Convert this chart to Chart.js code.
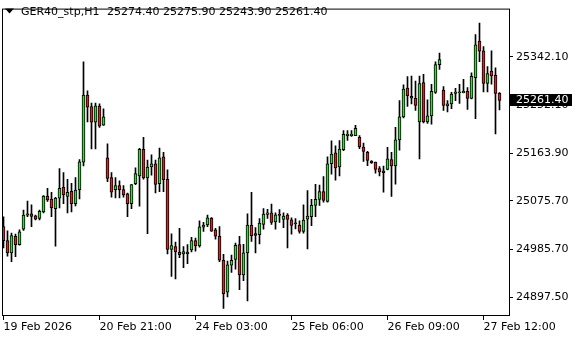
<!DOCTYPE html>
<html>
<head>
<meta charset="utf-8">
<script src="https://cdn.jsdelivr.net/npm/chart.js@4.4.1/dist/chart.umd.min.js"></script>
<style>
html, body { margin: 0; padding: 0; background: #fff; }
canvas { display: block; }
</style>
</head>
<body>
<canvas id="chart" width="580" height="340"></canvas>
<script>
// GER40 H1 candles (O, H, L, C per bar)
var symbol = 'GER40_stp,H1';

var opens = [
  25028.2, 25002.2, 24979.7, 25010.0, 24994.9, 25023.3, 25049.4, 25051.7, 25048.1, 25043.2,
  25055.4, 25084.4, 25079.0, 25061.4, 25080.8, 25100.7, 25083.9, 25093.5, 25070.4, 25096.6,
  25147.4, 25271.3, 25250.1, 25221.1, 25250.8, 25215.6, 25155.2, 25118.9, 25096.6, 25103.8,
  25096.6, 25088.6, 25070.4, 25107.5, 25122.0, 25171.0, 25118.3, 25138.3, 25144.3, 25107.5,
  25157.0, 25115.3, 24985.9, 24991.3, 24980.4, 24977.9, 24977.9, 24985.1, 25002.2, 24992.4,
  25026.9, 25031.2, 25044.0, 25022.2, 25010.0, 24965.9, 24907.1, 24956.8, 24967.7, 24994.9,
  24938.7, 24979.7, 25031.2, 25015.5, 25013.1, 25032.3, 25050.5, 25053.6, 25036.7, 25049.6,
  25041.4, 25049.4, 25040.9, 25033.6, 25031.2, 25019.1, 25042.1, 25046.3, 25067.5, 25078.4,
  25092.9, 25074.8, 25144.3, 25164.3, 25138.3, 25170.2, 25196.4, 25196.4, 25196.4, 25193.3,
  25175.1, 25165.5, 25149.0, 25147.4, 25135.2, 25131.1, 25134.0, 25152.1, 25140.1, 25188.4,
  25230.9, 25284.0, 25269.0, 25265.3, 25221.8, 25294.4, 25221.8, 25232.7, 25276.2, 25327.6,
  25280.4, 25251.4, 25255.0, 25274.4, 25275.5, 25275.5, 25278.0, 25265.0, 25303.4, 25371.1,
  25353.0, 25292.6, 25315.4, 25307.6, 25274.4
];
var highs = [
  25046.3, 25020.4, 25016.0, 25014.2, 25022.2, 25058.5, 25075.3, 25068.6, 25049.4, 25058.5,
  25085.7, 25098.9, 25091.7, 25082.1, 25135.2, 25128.0, 25115.3, 25108.0, 25118.9, 25152.1,
  25332.5, 25279.1, 25256.3, 25256.3, 25255.0, 25245.9, 25181.1, 25128.0, 25118.9, 25112.9,
  25103.8, 25089.9, 25105.6, 25137.0, 25173.0, 25193.3, 25151.0, 25160.6, 25151.0, 25173.3,
  25165.5, 25132.9, 25014.9, 24999.7, 25025.1, 24991.3, 24994.9, 25008.2, 25006.9, 25039.0,
  25036.0, 25049.4, 25045.0, 25025.1, 25028.2, 24976.8, 24964.6, 24975.5, 24997.9, 25010.0,
  24995.5, 25051.7, 25091.7, 25026.3, 25043.2, 25061.4, 25060.3, 25069.9, 25053.6, 25059.5,
  25053.6, 25052.3, 25044.5, 25043.2, 25039.0, 25068.6, 25094.8, 25078.4, 25106.2, 25104.9,
  25120.7, 25157.0, 25186.6, 25177.5, 25187.3, 25205.4, 25205.4, 25205.4, 25215.1, 25196.4,
  25182.4, 25167.3, 25150.0, 25147.4, 25138.9, 25140.1, 25174.6, 25165.5, 25211.4, 25261.0,
  25290.0, 25305.3, 25306.4, 25297.3, 25306.4, 25309.4, 25262.3, 25291.3, 25332.5, 25348.8,
  25287.1, 25261.0, 25276.2, 25283.5, 25291.3, 25300.4, 25285.3, 25312.5, 25382.9, 25404.2,
  25360.8, 25324.0, 25353.0, 25321.6, 25275.9
];
var lows = [
  24988.8, 24973.7, 24963.4, 24972.4, 24993.7, 25020.9, 25046.3, 25028.2, 25040.3, 25040.3,
  25053.6, 25074.8, 25046.3, 24991.9, 25062.6, 25070.4, 25053.6, 25055.4, 25066.3, 25079.5,
  25140.1, 25221.8, 25171.5, 25171.5, 25211.4, 25215.1, 25111.1, 25082.6, 25081.3, 25081.3,
  25082.6, 25046.3, 25061.4, 25105.6, 25065.7, 25116.0, 25014.9, 25123.1, 25090.4, 25092.9,
  25092.9, 24977.9, 24936.2, 24931.4, 24970.6, 24952.5, 24959.7, 24981.5, 24982.8, 24990.0,
  25019.1, 25028.2, 25019.1, 25005.1, 24963.4, 24877.0, 24898.0, 24943.4, 24949.6, 24911.4,
  24928.3, 24890.8, 25000.9, 24979.7, 24996.0, 25023.3, 25043.2, 25032.3, 25023.3, 25036.0,
  25026.3, 24988.8, 25014.2, 25024.0, 25016.0, 25016.0, 24987.0, 25030.0, 25046.3, 25067.5,
  25073.5, 25073.5, 25124.9, 25114.0, 25122.0, 25168.4, 25187.3, 25194.6, 25196.0, 25172.1,
  25148.8, 25140.7, 25145.0, 25126.7, 25122.0, 25091.7, 25133.0, 25083.9, 25106.7, 25169.2,
  25229.0, 25250.1, 25255.0, 25242.8, 25153.4, 25220.0, 25218.7, 25217.4, 25274.4, 25318.5,
  25242.8, 25239.9, 25245.9, 25261.0, 25255.9, 25275.0, 25244.6, 25264.0, 25227.8, 25333.0,
  25277.1, 25277.1, 25291.3, 25199.3, 25243.9
];
var closes = [
  25002.2, 24979.7, 25011.8, 24994.9, 25018.5, 25049.4, 25051.7, 25046.8, 25042.1, 25056.6,
  25084.4, 25077.7, 25063.2, 25080.8, 25098.9, 25086.8, 25091.7, 25070.4, 25095.8, 25147.9,
  25271.3, 25249.0, 25221.1, 25251.4, 25213.8, 25230.9, 25117.1, 25091.7, 25103.8, 25096.6,
  25086.8, 25070.4, 25105.6, 25126.2, 25171.0, 25118.3, 25138.3, 25144.3, 25106.2, 25155.2,
  25114.7, 24985.9, 24993.1, 24981.5, 24976.1, 24982.2, 24981.0, 25002.2, 24992.4, 25027.6,
  25031.2, 25044.5, 25019.6, 25010.6, 24965.9, 24904.2, 24957.4, 24965.9, 24993.7, 24938.7,
  24979.7, 25031.2, 25011.3, 25011.8, 25034.9, 25051.2, 25053.6, 25036.0, 25049.9, 25049.0,
  25047.6, 25041.4, 25030.5, 25033.4, 25019.1, 25040.3, 25047.6, 25067.5, 25078.4, 25092.9,
  25076.6, 25144.3, 25162.4, 25136.5, 25171.5, 25198.7, 25198.7, 25198.7, 25209.6, 25175.7,
  25167.3, 25150.6, 25146.0, 25134.0, 25129.2, 25128.0, 25153.4, 25140.1, 25188.4, 25230.9,
  25282.2, 25270.1, 25265.3, 25251.9, 25292.6, 25221.8, 25232.7, 25278.0, 25327.6, 25336.7,
  25251.9, 25255.0, 25273.1, 25276.8, 25276.2, 25278.0, 25265.0, 25305.8, 25363.9, 25352.4,
  25292.6, 25310.9, 25306.7, 25274.4, 25261.4
];

var xTickIndex = [0, 24, 48, 72, 96, 120];
var xTickLabels = ['19 Feb 2026', '20 Feb 21:00', '24 Feb 03:00', '25 Feb 06:00', '26 Feb 09:00', '27 Feb 12:00'];
var yTicks = [25342.10, 25252.10, 25163.90, 25075.70, 24985.70, 24897.50];

var bullColor = '#33dd33';
var bearColor = '#dd2222';
var font = { family: 'DejaVu Sans', size: 11 };

var bodies = [], wicks = [], bodyColors = [];
for (var i = 0; i < opens.length; i++) {
  bodies.push({ x: i, y: [opens[i], closes[i]] });
  wicks.push({ x: i, y: [lows[i], highs[i]] });
  bodyColors.push(closes[i] >= opens[i] ? bullColor : bearColor);
}

// frame, header text and the last price box
var overlay = {
  id: 'overlay',
  afterDraw: function (chart) {
    var ctx = chart.ctx;
    var a = chart.chartArea;
    var last = opens.length - 1;
    ctx.save();
    ctx.strokeStyle = '#000';
    ctx.lineWidth = 1;
    ctx.strokeRect(a.left + 0.5, a.top - 0.5, a.right - a.left, a.bottom - a.top + 1);

    ctx.fillStyle = '#000';
    ctx.beginPath();
    ctx.moveTo(5, 8.5);
    ctx.lineTo(14, 8.5);
    ctx.lineTo(9.5, 13.5);
    ctx.closePath();
    ctx.fill();

    ctx.font = '11px "DejaVu Sans"';
    ctx.textBaseline = 'middle';
    ctx.fillText(symbol, 21, 12);
    ctx.fillText([opens[last], highs[last], lows[last], closes[last]].map(function (v) {
      return v.toFixed(2);
    }).join(' '), 107, 12);

    var py = chart.scales.y.getPixelForValue(closes[last]);
    ctx.fillRect(a.right + 1, Math.round(py) - 6, 62, 12);
    ctx.fillStyle = '#fff';
    ctx.fillText(closes[last].toFixed(2), a.right + 7, Math.round(py));
    ctx.restore();
  }
};

new Chart(document.getElementById('chart'), {
  type: 'bar',
  data: {
    datasets: [{
      label: 'body',
      data: bodies,
      backgroundColor: bodyColors,
      borderColor: '#000',
      borderWidth: 1,
      borderSkipped: false,
      barThickness: 3,
      minBarLength: 1,
      grouped: false,
      order: 1
    }, {
      label: 'wick',
      data: wicks,
      backgroundColor: '#000',
      borderWidth: 0,
      barThickness: 1,
      grouped: false,
      order: 2
    }]
  },
  options: {
    responsive: false,
    animation: false,
    events: [],
    layout: { padding: { left: 2, top: 4, right: 0, bottom: 0 } },
    plugins: { legend: { display: false }, tooltip: { enabled: false } },
    scales: {
      x: {
        type: 'linear',
        min: -0.375,
        max: 126.375,
        offset: false,
        afterBuildTicks: function (s) { s.ticks = xTickIndex.map(function (v) { return { value: v }; }); },
        afterFit: function (s) { s.height = 25; },
        grid: { drawOnChartArea: false, offset: false, tickLength: 5, color: '#000' },
        border: { display: false },
        ticks: {
          align: 'start', color: '#000', font: font, padding: 1, maxRotation: 0, autoSkip: false,
          callback: function (v) { return xTickLabels[xTickIndex.indexOf(v)]; }
        }
      },
      y: {
        position: 'right',
        min: 24864.8,
        max: 25429.2,
        afterBuildTicks: function (s) { s.ticks = yTicks.map(function (v) { return { value: v }; }); },
        afterFit: function (s) { s.width = 71; },
        grid: { drawOnChartArea: false, tickLength: 4, color: '#000' },
        border: { display: false },
        ticks: {
          color: '#000', font: font, padding: 3, autoSkip: false,
          callback: function (v) { return v.toFixed(2); }
        }
      }
    }
  },
  plugins: [overlay]
});
</script>
</body>
</html>
